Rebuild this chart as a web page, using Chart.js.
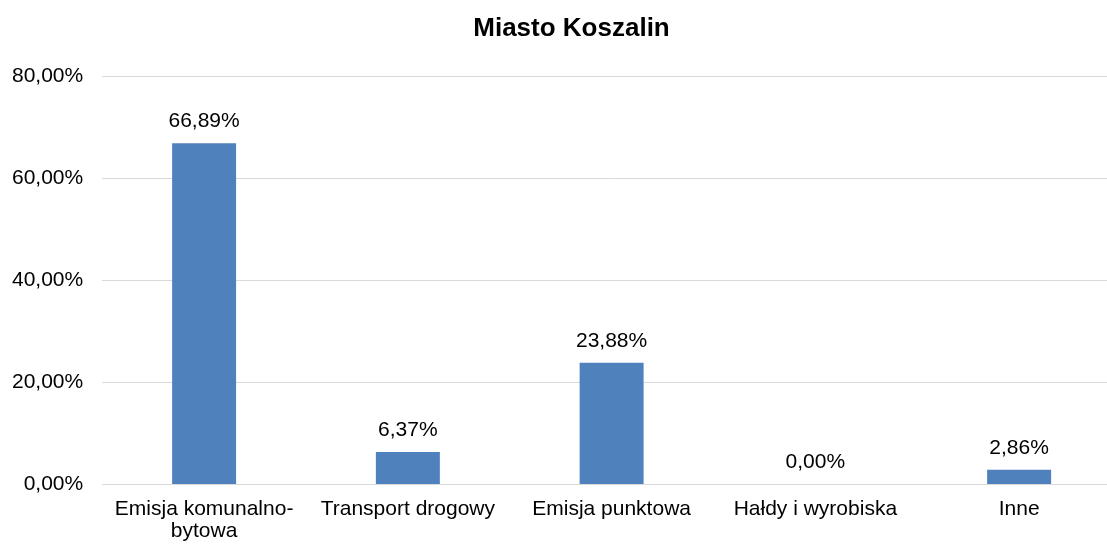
<!DOCTYPE html>
<html lang="pl">
<head>
<meta charset="utf-8">
<title>Miasto Koszalin</title>
<script src="https://cdn.jsdelivr.net/npm/chart.js@4/dist/chart.umd.min.js"></script>
<style>
  html, body { margin: 0; padding: 0; background: #fff; overflow: hidden; }
  #wrap { width: 1107px; height: 544px; overflow: hidden; }
</style>
</head>
<body>
<div id="wrap">
  <canvas id="grafico" width="1121" height="544"></canvas>
</div>
<script>
// dane
const tytul = "Miasto Koszalin";
const kategorie = [
  ["Emisja komunalno-", "bytowa"],
  "Transport drogowy",
  "Emisja punktowa",
  "Hałdy i wyrobiska",
  "Inne"
];
const udzialy = [66.89, 6.37, 23.88, 0.00, 2.86];
const osY = [0, 20, 40, 60, 80];

const czcionka = "'Liberation Sans', Arial, sans-serif";

// wartość w formacie polskim, np. 66,89%
function procent(v) {
  return v.toFixed(2).replace(".", ",") + "%";
}

// etykiety nad słupkami + tytuł (wyśrodkowany jak w oryginale)
const etykiety = {
  id: "etykiety",
  afterDatasetsDraw(chart) {
    const { ctx } = chart;
    const meta = chart.getDatasetMeta(0);
    ctx.save();
    ctx.font = "21px " + czcionka;
    ctx.fillStyle = "#000";
    ctx.textAlign = "center";
    ctx.textBaseline = "alphabetic";
    meta.data.forEach((bar, i) => {
      ctx.fillText(procent(udzialy[i]), bar.x, bar.y - 16);
    });

    ctx.font = "bold 26px " + czcionka;
    ctx.textBaseline = "middle";
    ctx.fillText(tytul, 571.5, 29);
    ctx.restore();
  }
};

new Chart(document.getElementById("grafico"), {
  type: "bar",
  data: {
    labels: kategorie,
    datasets: [{
      data: udzialy,
      backgroundColor: "#4f81bd",
      borderWidth: 0,
      categoryPercentage: 1,
      barPercentage: 0.314
    }]
  },
  options: {
    responsive: false,
    animation: false,
    // ujemne marginesy kompensują podwójnie liczony odstęp etykiet osi
    layout: { padding: { left: -7, right: 0, top: 76.5, bottom: -12.5 } },
    plugins: {
      legend: { display: false },
      tooltip: { enabled: false },
      title: { display: false }
    },
    scales: {
      x: {
        grid: { display: false, drawTicks: false },
        border: { display: false },
        ticks: {
          color: "#000",
          padding: 14,
          maxRotation: 0,
          autoSkip: false,
          font: { family: czcionka, size: 21, lineHeight: 1.05 }
        }
      },
      y: {
        min: osY[0],
        max: osY[osY.length - 1],
        afterBuildTicks(axis) {
          axis.ticks = osY.map(v => ({ value: v }));
        },
        grid: { color: "#d9d9d9", lineWidth: 1, drawTicks: false },
        border: { display: false },
        ticks: {
          color: "#000",
          padding: 19,
          font: { family: czcionka, size: 21 },
          callback: v => procent(v)
        }
      }
    }
  },
  plugins: [etykiety]
});
</script>
</body>
</html>
